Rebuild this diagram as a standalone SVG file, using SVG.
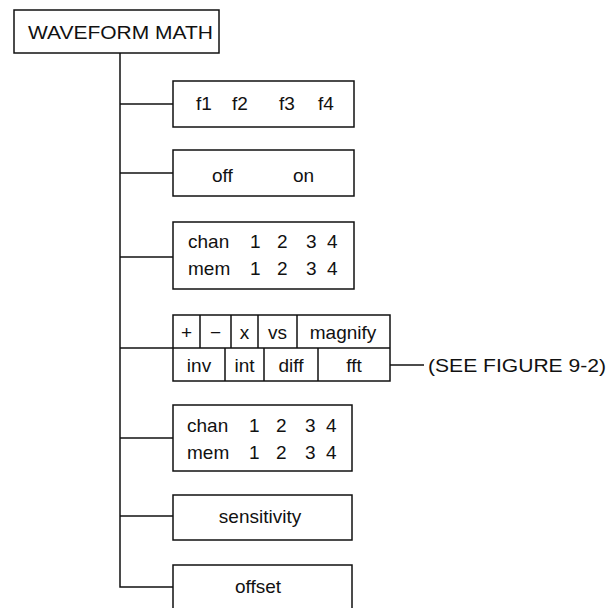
<svg xmlns="http://www.w3.org/2000/svg" width="609" height="608" viewBox="0 0 609 608">
<style>
.box{fill:none;stroke:#111;stroke-width:1.5}
.ln{fill:none;stroke:#111;stroke-width:1.5}
text{font-family:"Liberation Sans",Arial,Helvetica,sans-serif;font-size:19px;fill:#111}
.c{text-anchor:middle}
</style>
<rect width="609" height="608" fill="#fff"/>
<g id="connectors">
<path class="ln" d="M120,53 V587 H173"/>
<path class="ln" d="M120,104 H173"/>
<path class="ln" d="M120,173 H173"/>
<path class="ln" d="M120,257 H173"/>
<path class="ln" d="M120,348 H173"/>
<path class="ln" d="M120,438 H173"/>
<path class="ln" d="M120,516 H173"/>
<path class="ln" d="M390,365 H424"/>
</g>
<g id="waveform-math">
<rect class="box" x="14" y="10" width="205" height="43"/>
<text x="28" y="39" textLength="185" lengthAdjust="spacingAndGlyphs">WAVEFORM MATH</text>
</g>
<g id="functions">
<rect class="box" x="173" y="81" width="181" height="46"/>
<text x="196" y="110">f1</text>
<text x="232" y="110">f2</text>
<text x="279" y="110">f3</text>
<text x="318" y="110">f4</text>
</g>
<g id="off-on">
<rect class="box" x="173" y="150" width="181" height="46"/>
<text x="212" y="182">off</text>
<text x="293" y="182">on</text>
</g>
<g id="source1">
<rect class="box" x="173" y="222" width="181" height="67"/>
<text x="188" y="248">chan</text>
<text x="250" y="248">1</text>
<text x="277" y="248">2</text>
<text x="306" y="248">3</text>
<text x="327" y="248">4</text>
<text x="188" y="275">mem</text>
<text x="250" y="275">1</text>
<text x="277" y="275">2</text>
<text x="306" y="275">3</text>
<text x="327" y="275">4</text>
</g>
<g id="operators">
<rect class="box" x="173" y="315" width="217" height="66"/>
<path class="ln" d="M173,348 H390 M200,315 V348 M231,315 V348 M258,315 V348 M297,315 V348 M225,348 V381 M264,348 V381 M318,348 V381"/>
<text class="c" x="186.5" y="339">+</text>
<text class="c" x="215.5" y="339">−</text>
<text class="c" x="244.5" y="339">x</text>
<text class="c" x="277.5" y="339">vs</text>
<text class="c" x="343" y="339">magnify</text>
<text class="c" x="199" y="372">inv</text>
<text class="c" x="244.5" y="372">int</text>
<text class="c" x="291" y="372">diff</text>
<text class="c" x="354" y="372">fft</text>
</g>
<g id="see-figure">
<text x="428" y="372" textLength="178" lengthAdjust="spacingAndGlyphs">(SEE FIGURE 9-2)</text>
</g>
<g id="source2">
<rect class="box" x="173" y="405" width="179" height="66"/>
<text x="187" y="432">chan</text>
<text x="249" y="432">1</text>
<text x="276" y="432">2</text>
<text x="305" y="432">3</text>
<text x="326" y="432">4</text>
<text x="187" y="459">mem</text>
<text x="249" y="459">1</text>
<text x="276" y="459">2</text>
<text x="305" y="459">3</text>
<text x="326" y="459">4</text>
</g>
<g id="sensitivity">
<rect class="box" x="173" y="495" width="179" height="45"/>
<text class="c" x="260" y="523">sensitivity</text>
</g>
<g id="offset">
<rect class="box" x="173" y="565" width="179" height="50"/>
<text class="c" x="258" y="593">offset</text>
</g>
</svg>
